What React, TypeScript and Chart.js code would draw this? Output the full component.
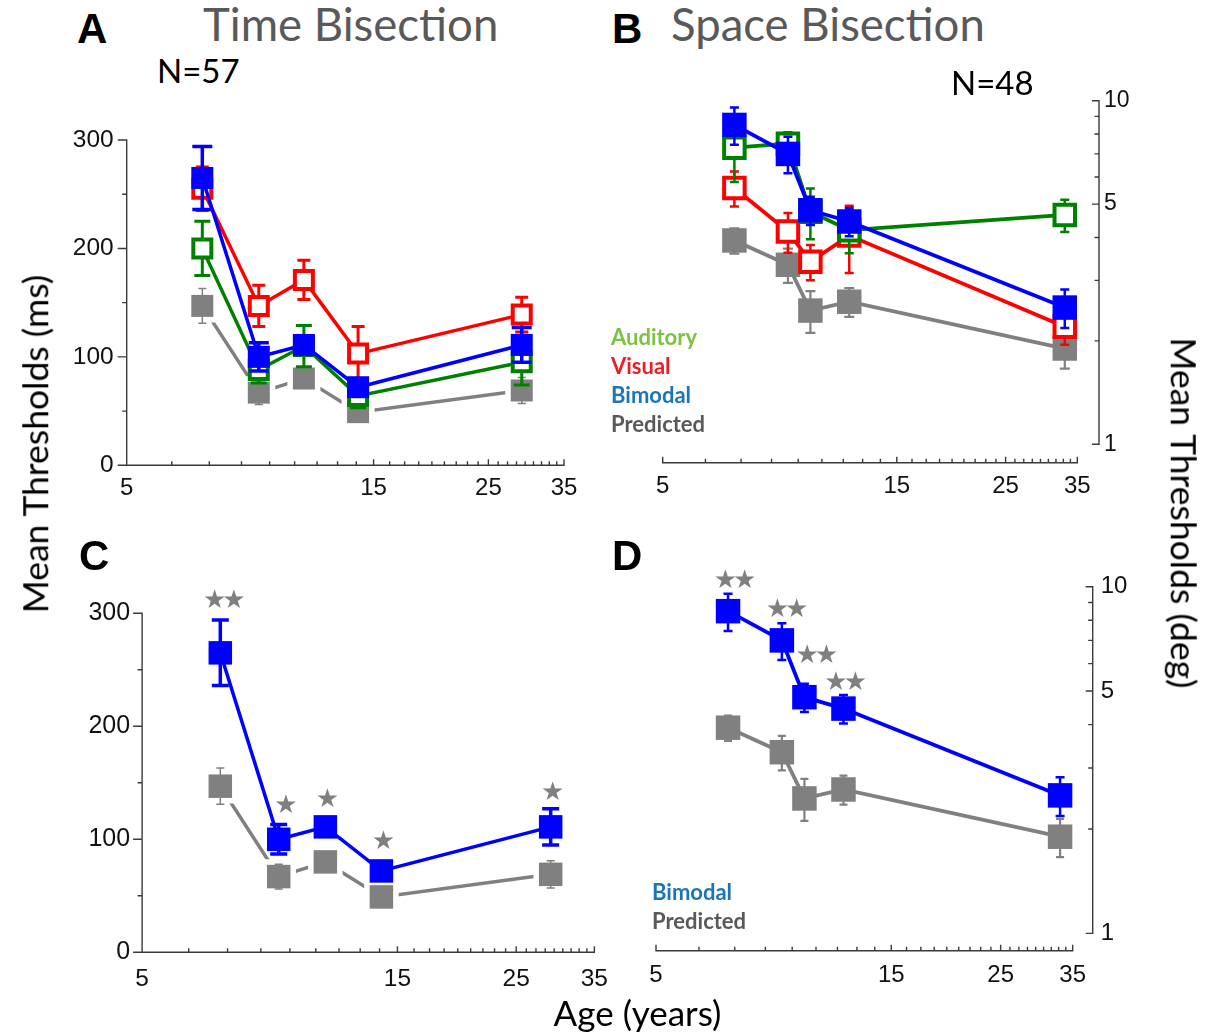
import React, { useEffect, useRef } from "react";
import { Chart, registerables } from "chart.js";

Chart.register(...registerables);

// ---------------- data ----------------
const agesTime = [7, 9, 11, 14, 29];
const agesSpace = [7, 9, 10, 12, 33];

const auditoryTime = [200, 88, 110, 64, 95];
const auditoryTimeErr = [25, 12, 19, 11, 21];
const visualTime = [255, 147, 171, 103, 139];
const visualTimeErr = [20, 19, 18, 25, 16];
const bimodalTime = [265, 100, 111, 72, 111];
const bimodalTimeErr = [29, 13, 8, 7, 16];
const predictedTime = [147, 67, 80, 49, 69];
const predictedTimeErr = [16, 11, 6, 5, 12];

const auditorySpace = [7.3, 7.5, 4.75, 4.2, 4.65];
const auditorySpaceErr = [1.5, 0.6, 0.8, 0.6, 0.5];
const visualSpace = [5.57, 4.16, 3.4, 4.05, 2.2];
const visualSpaceErr = [0.65, 0.55, 0.4, 0.9, 0.25];
const bimodalSpace = [8.5, 7.0, 4.8, 4.45, 2.5];
const bimodalSpaceErr = [1.05, 0.85, 0.45, 0.42, 0.32];
const predictedSpace = [3.92, 3.33, 2.45, 2.6, 1.9];
const predictedSpaceErr = [0.33, 0.38, 0.34, 0.25, 0.24];

const starsC = ["★★", "★", "★", "★", "★"];
const starAgeC = [7, 9.2, 11, 14, 29];
const starLevelC = [311, 129, 135, 97, 141];
const starsD = ["★★", "★★", "★★", "★★"];
const starAgeD = [7.1, 9.05, 10.4, 11.9];
const starLevelD = [10.4, 8.57, 6.28, 5.28];

const xMajorTicks = [5, 15, 25, 35];
const timeMajorTicks = [0, 100, 200, 300];
const timeMinorTicks = [50, 150, 250];
const spaceMajorTicks = [1, 5, 10];
const spaceMinorTicks = [2, 3, 4, 6, 7, 8, 9];

// ---------------- styling ----------------
const BLUE = "#0000ff";
const RED = "#ff0000";
const GREEN = "#008000";
const GRAY = "#808080";
const AXIS = "#3a3a3a";

function xMinorTicks(): number[] {
  const out: number[] = [];
  for (let i = 0; i < xMajorTicks.length - 1; i++) {
    const a = xMajorTicks[i];
    const b = xMajorTicks[i + 1];
    for (let k = 1; k < 9; k++) out.push(a + ((b - a) * k) / 9);
  }
  return out;
}

function pts(xs: number[], ys: number[]) {
  return xs.map((x, i) => ({ x, y: ys[i] }));
}

function filled(xs: number[], ys: number[], err: number[], color: string, side: number, lineW: number, cap: number, errW: number, showLine = true) {
  return {
    data: pts(xs, ys),
    showLine,
    borderColor: color,
    borderWidth: lineW,
    backgroundColor: color,
    pointStyle: "rect",
    pointRadius: side / Math.SQRT2,
    pointBackgroundColor: color,
    pointBorderColor: color,
    pointBorderWidth: 0,
    tension: 0,
    clip: false,
    errorBars: { err, color, width: errW, cap },
  };
}

function open(xs: number[], ys: number[], err: number[], color: string, side: number, bw: number, lineW: number, cap: number, errW: number) {
  return {
    data: pts(xs, ys),
    showLine: true,
    borderColor: color,
    borderWidth: lineW,
    backgroundColor: "#ffffff",
    pointStyle: "rect",
    pointRadius: (side - bw) / Math.SQRT2,
    pointBackgroundColor: "#ffffff",
    pointBorderColor: color,
    pointBorderWidth: bw,
    tension: 0,
    clip: false,
    errorBars: { err, color, width: errW, cap },
  };
}

function grayWithGaps(xs: number[], ys: number[], err: number[], side: number, lineW: number, cap: number, errW: number) {
  const line = {
    data: pts(xs, ys),
    showLine: true,
    borderColor: GRAY,
    borderWidth: lineW,
    pointRadius: 0,
    tension: 0,
    clip: false,
  };
  const halo = {
    data: pts(xs, ys),
    showLine: false,
    pointStyle: "rect",
    pointRadius: (side + 11) / Math.SQRT2,
    pointBackgroundColor: "#ffffff",
    pointBorderWidth: 0,
    clip: false,
  };
  const markers = filled(xs, ys, err, GRAY, side, lineW, cap, errW, false);
  return [markers, halo, line];
}

const errorBarPlugin = {
  id: "errorBars",
  beforeDatasetDraw(chart: any, args: any) {
    const ds = chart.data.datasets[args.index];
    const eb = ds.errorBars;
    if (!eb) return;
    const ctx = chart.ctx;
    const xs = chart.scales.x;
    const ys = chart.scales.y;
    ctx.save();
    ctx.strokeStyle = eb.color;
    ctx.lineWidth = eb.width;
    ctx.lineCap = "butt";
    ds.data.forEach((p: any, i: number) => {
      const px = xs.getPixelForValue(p.x);
      const top = ys.getPixelForValue(p.y + eb.err[i]);
      const bot = ys.getPixelForValue(p.y - eb.err[i]);
      ctx.beginPath();
      ctx.moveTo(px, top);
      ctx.lineTo(px, bot);
      ctx.moveTo(px - eb.cap / 2, top);
      ctx.lineTo(px + eb.cap / 2, top);
      ctx.moveTo(px - eb.cap / 2, bot);
      ctx.lineTo(px + eb.cap / 2, bot);
      ctx.stroke();
    });
    ctx.restore();
  },
};

type Spec = {
  canvas: { left: number; top: number; width: number; height: number };
  area: { left: number; top: number; right: number; bottom: number };
  xMax: number;
  yType: "linear" | "logarithmic";
  yMin: number;
  yMax: number;
  yPos: "left" | "right";
  yMajor: number[];
  yMinor: number[];
  yMajorLen: number;
  yMinorLen: number;
  xFont: number;
  yFont: number;
  xPad: number;
  yPad: number;
  datasets: any[];
  stars?: { text: string[]; ages: number[]; levels: number[] };
};

function axesPlugin(p: Spec) {
  const minors = xMinorTicks();
  return {
    id: "paperAxes",
    beforeDatasetsDraw(chart: any) {
      const ctx = chart.ctx;
      const xs = chart.scales.x;
      const ys = chart.scales.y;
      const a = chart.chartArea;
      ctx.save();
      ctx.strokeStyle = AXIS;
      ctx.lineWidth = 1.4;
      ctx.beginPath();
      const y0 = a.bottom;
      ctx.moveTo(xs.getPixelForValue(xMajorTicks[0]) - 0.7, y0);
      ctx.lineTo(xs.getPixelForValue(xMajorTicks[xMajorTicks.length - 1]) + 0.7, y0);
      xMajorTicks.forEach((v) => {
        const px = xs.getPixelForValue(v);
        ctx.moveTo(px, y0);
        ctx.lineTo(px, y0 - 6);
      });
      minors.forEach((v) => {
        const px = xs.getPixelForValue(v);
        ctx.moveTo(px, y0);
        ctx.lineTo(px, y0 - 4);
      });
      const x0 = p.yPos === "left" ? a.left : a.right;
      ctx.moveTo(x0, ys.getPixelForValue(p.yMajor[0]) + 0.7);
      ctx.lineTo(x0, ys.getPixelForValue(p.yMajor[p.yMajor.length - 1]) - 0.7);
      p.yMajor.forEach((v) => {
        const py = ys.getPixelForValue(v);
        ctx.moveTo(x0, py);
        ctx.lineTo(x0 - p.yMajorLen, py);
      });
      p.yMinor.forEach((v) => {
        const py = ys.getPixelForValue(v);
        ctx.moveTo(x0, py);
        ctx.lineTo(x0 - p.yMinorLen, py);
      });
      ctx.stroke();
      ctx.restore();
    },
  };
}

function starsPlugin(p: Spec) {
  return {
    id: "stars",
    afterDatasetsDraw(chart: any) {
      if (!p.stars) return;
      const ctx = chart.ctx;
      const xs = chart.scales.x;
      const ys = chart.scales.y;
      ctx.save();
      ctx.fillStyle = GRAY;
      ctx.font = "26px 'DejaVu Sans'";
      try {
        (ctx as any).letterSpacing = "-4px";
      } catch (e) {}
      ctx.textAlign = "center";
      ctx.textBaseline = "middle";
      p.stars.text.forEach((t, i) => {
        ctx.fillText(t, xs.getPixelForValue(p.stars!.ages[i]) - (t.length > 1 ? -2 : 0), ys.getPixelForValue(p.stars!.levels[i]));
      });
      ctx.restore();
    },
  };
}

function buildConfig(p: Spec): any {
  const cRight = p.canvas.left + p.canvas.width;
  const cBottom = p.canvas.top + p.canvas.height;
  const yWidth = p.yPos === "left" ? p.area.left - p.canvas.left : cRight - p.area.right;
  const xHeight = cBottom - p.area.bottom;
  const padding = {
    left: p.yPos === "left" ? 0 : p.area.left - p.canvas.left,
    right: p.yPos === "left" ? cRight - p.area.right : 0,
    top: p.area.top - p.canvas.top,
    bottom: 0,
  };
  return {
    type: "scatter",
    data: { datasets: p.datasets },
    options: {
      responsive: false,
      maintainAspectRatio: false,
      animation: false,
      events: [],
      layout: { padding },
      plugins: { legend: { display: false }, tooltip: { enabled: false } },
      scales: {
        x: {
          type: "logarithmic",
          position: "bottom",
          min: 5,
          max: p.xMax,
          bounds: "data",
          grid: { display: false, drawTicks: false },
          border: { display: false },
          ticks: {
            autoSkip: false,
            maxRotation: 0,
            minRotation: 0,
            padding: p.xPad,
            color: "#111",
            font: { family: "'Liberation Sans', Arial, sans-serif", size: p.xFont },
            callback: (v: any) => String(v),
          },
          afterBuildTicks: (s: any) => {
            s.ticks = xMajorTicks.map((v) => ({ value: v }));
          },
          afterFit: (s: any) => {
            s.height = xHeight;
          },
        },
        y: {
          type: p.yType,
          position: p.yPos,
          min: p.yMin,
          max: p.yMax,
          bounds: "data",
          grid: { display: false, drawTicks: false },
          border: { display: false },
          ticks: {
            autoSkip: false,
            padding: p.yPad,
            color: "#111",
            font: { family: "'Liberation Sans', Arial, sans-serif", size: p.yFont },
            callback: (v: any) => String(v),
          },
          afterBuildTicks: (s: any) => {
            s.ticks = p.yMajor.map((v) => ({ value: v }));
          },
          afterFit: (s: any) => {
            s.width = yWidth;
          },
        },
      },
    },
    plugins: [errorBarPlugin, axesPlugin(p), starsPlugin(p)],
  };
}

// ---------------- panels ----------------
const panelA: Spec = {
  canvas: { left: 40, top: 100, width: 560, height: 410 },
  area: { left: 126.7, top: 140, right: 564, bottom: 465.3 },
  xMax: 35,
  yType: "linear",
  yMin: 0,
  yMax: 300,
  yPos: "left",
  yMajor: timeMajorTicks,
  yMinor: timeMinorTicks,
  yMajorLen: 9,
  yMinorLen: 4.5,
  xFont: 24,
  yFont: 24.5,
  xPad: 9,
  yPad: 13,
  datasets: [
    filled(agesTime, bimodalTime, bimodalTimeErr, BLUE, 22, 3.5, 20, 3.5),
    open(agesTime, auditoryTime, auditoryTimeErr, GREEN, 22, 4, 3.5, 16, 3),
    open(agesTime, visualTime, visualTimeErr, RED, 22, 4, 3.5, 13, 3),
    ...grayWithGaps(agesTime, predictedTime, predictedTimeErr, 22, 3.5, 8, 1.5),
  ],
};

const panelB: Spec = {
  canvas: { left: 610, top: 80, width: 590, height: 430 },
  area: { left: 662.7, top: 100.7, right: 1099, bottom: 462.7 },
  xMax: 38.75,
  yType: "logarithmic",
  yMin: 0.884,
  yMax: 10,
  yPos: "right",
  yMajor: spaceMajorTicks,
  yMinor: spaceMinorTicks,
  yMajorLen: 7,
  yMinorLen: 4.5,
  xFont: 24,
  yFont: 23,
  xPad: 9,
  yPad: 5,
  datasets: [
    filled(agesSpace, bimodalSpace, bimodalSpaceErr, BLUE, 24.5, 3.8, 9, 2.5),
    open(agesSpace, auditorySpace, auditorySpaceErr, GREEN, 24.5, 4, 3.8, 9, 2.5),
    open(agesSpace, visualSpace, visualSpaceErr, RED, 24.5, 4, 3.8, 9, 2.5),
    filled(agesSpace, predictedSpace, predictedSpaceErr, GRAY, 24.5, 3.8, 10, 2.2),
  ],
};

const panelC: Spec = {
  canvas: { left: 40, top: 570, width: 580, height: 430 },
  area: { left: 142.1, top: 613.3, right: 598.6, bottom: 952.3 },
  xMax: 35,
  yType: "linear",
  yMin: 0,
  yMax: 300,
  yPos: "left",
  yMajor: timeMajorTicks,
  yMinor: timeMinorTicks,
  yMajorLen: 9,
  yMinorLen: 4.5,
  xFont: 24.5,
  yFont: 25,
  xPad: 12,
  yPad: 12,
  datasets: [
    filled(agesTime, bimodalTime, bimodalTimeErr, BLUE, 23.5, 3.5, 17, 3.5),
    ...grayWithGaps(agesTime, predictedTime, predictedTimeErr, 23.5, 3.5, 8, 1.5),
  ],
  stars: { text: starsC, ages: starAgeC, levels: starLevelC },
};

const panelD: Spec = {
  canvas: { left: 625, top: 560, width: 585, height: 440 },
  area: { left: 656, top: 586.7, right: 1092.7, bottom: 950.7 },
  xMax: 38.43,
  yType: "logarithmic",
  yMin: 0.891,
  yMax: 10,
  yPos: "right",
  yMajor: spaceMajorTicks,
  yMinor: spaceMinorTicks,
  yMajorLen: 7,
  yMinorLen: 4.5,
  xFont: 24,
  yFont: 24,
  xPad: 10,
  yPad: 8,
  datasets: [
    filled(agesSpace, bimodalSpace, bimodalSpaceErr, BLUE, 24.5, 3.8, 9, 2.5),
    filled(agesSpace, predictedSpace, predictedSpaceErr, GRAY, 24.5, 3.8, 8, 2.2),
  ],
  stars: { text: starsD, ages: starAgeD, levels: starLevelD },
};

function Panel({ spec }: { spec: Spec }) {
  const ref = useRef<HTMLCanvasElement | null>(null);
  useEffect(() => {
    if (!ref.current) return;
    const chart = new Chart(ref.current, buildConfig(spec));
    return () => chart.destroy();
  }, [spec]);
  return (
    <canvas
      ref={ref}
      width={spec.canvas.width}
      height={spec.canvas.height}
      style={{
        position: "absolute",
        left: spec.canvas.left,
        top: spec.canvas.top,
        width: spec.canvas.width,
        height: spec.canvas.height,
      }}
    />
  );
}

const LATO = "Lato, 'Open Sans', sans-serif";
const ARIAL = "'Liberation Sans', Arial, sans-serif";

function T(props: { x: number; y: number; s: number; text: string; color?: string; w?: number; f?: string; style?: any }) {
  const { x, y, s, text, color = "#000", w = 400, f = LATO, style = {} } = props;
  return (
    <div
      style={{
        position: "absolute",
        left: x,
        top: y,
        fontSize: s,
        fontFamily: f,
        fontWeight: w,
        color,
        lineHeight: 1,
        whiteSpace: "nowrap",
        ...style,
      }}
    >
      {text}
    </div>
  );
}

export default function App() {
  return (
    <div style={{ position: "absolute", left: 0, top: 0, width: 1213, height: 1034, background: "#fff", overflow: "hidden" }}>
      <Panel spec={panelA} />
      <Panel spec={panelB} />
      <Panel spec={panelC} />
      <Panel spec={panelD} />

      <T x={77} y={8} s={42} w={700} f={ARIAL} text="A" />
      <T x={612} y={8} s={42} w={700} f={ARIAL} text="B" />
      <T x={79} y={535} s={42} w={700} f={ARIAL} text="C" />
      <T x={612} y={535} s={42} w={700} f={ARIAL} text="D" />

      <T x={203} y={0.5} s={45.5} color="#595959" text="Time Bisection" />
      <T x={671} y={0.5} s={45.5} color="#595959" text="Space Bisection" />
      <T x={157} y={54.4} s={33} text="N=57" />
      <T x={951} y={66} s={33} text="N=48" />

      <T x={611} y={325.5} s={22} w={700} color="#7dc242" text="Auditory" />
      <T x={611} y={354.8} s={22} w={700} color="#ee1c24" text="Visual" />
      <T x={611} y={383.8} s={22} w={700} color="#1b75bc" text="Bimodal" />
      <T x={611} y={413.2} s={22} w={700} color="#595959" text="Predicted" />

      <T x={652} y={880.5} s={22} w={700} color="#1b75bc" text="Bimodal" />
      <T x={652} y={909.8} s={22} w={700} color="#595959" text="Predicted" />

      <T x={35} y={443.5} s={35.5} text="Mean Thresholds (ms)" style={{ transform: "translate(-50%, -50%) rotate(-90deg)" }} />
      <T x={1184} y={513} s={35.5} text="Mean Thresholds (deg)" style={{ transform: "translate(-50%, -50%) rotate(90deg)" }} />
      <T x={637.5} y={995} s={35} text="Age (years)" style={{ transform: "translateX(-50%)" }} />
    </div>
  );
}
